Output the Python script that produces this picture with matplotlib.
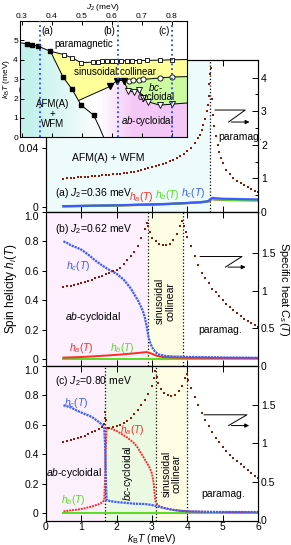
import numpy as np
import matplotlib
matplotlib.use("Agg")
import matplotlib.pyplot as plt
from matplotlib.patches import Polygon
from matplotlib.colors import LinearSegmentedColormap

plt.rcParams['font.family'] = ['Liberation Sans', 'DejaVu Sans']
plt.rcParams['mathtext.fontset'] = 'custom'
plt.rcParams['mathtext.rm'] = 'Liberation Sans'
plt.rcParams['mathtext.it'] = 'Liberation Sans:italic'
plt.rcParams['font.size'] = 7.5

# ---------------- phase diagram (inset) ----------------
afm_j = [0.319, 0.335, 0.355, 0.396, 0.438, 0.468, 0.498, 0.54]
afm_t = [4.82, 4.77, 4.70, 4.44, 3.11, 2.48, 1.66, 1.14]
afm_head = [0.295, 4.88]
afm_tail_j = [0.558, 0.573]
afm_tail_t = [0.55, 0.0]

para_j = [0.44, 0.468, 0.498, 0.538, 0.554, 0.568, 0.585, 0.60, 0.615, 0.632, 0.65, 0.667, 0.69, 0.717, 0.759, 0.80]
para_t = [4.27, 4.10, 3.85, 3.88, 3.90, 3.92, 3.92, 3.92, 3.93, 3.94, 3.95, 3.96, 3.96, 3.97, 3.98, 4.00]
para_end = [0.85, 4.01]

sin_start = [0.49, 1.90]
sin_j = [0.595, 0.617, 0.639]
sin_t = [2.63, 2.93, 2.93]

circ_j = [0.656, 0.672, 0.689, 0.705, 0.759, 0.80]
circ_t = [2.93, 2.94, 2.97, 2.99, 3.06, 3.11]
circ_end = [0.85, 3.13]

tri_j = [0.655, 0.675, 0.69, 0.705, 0.722, 0.759, 0.80]
tri_t = [2.40, 2.33, 2.42, 2.05, 1.83, 1.66, 1.71]
tri_end = [0.85, 1.77]

cut_j = [0.36, 0.62, 0.80]
cut_lab = ['(a)', '(b)', '(c)']

# ---------------- panel (a) J2=0.36 ----------------
Ta = [0.5, 0.6, 0.7, 0.8, 0.9, 1.0, 1.1, 1.2, 1.3, 1.4, 1.5, 1.6, 1.7, 1.8, 1.9, 2.0,
      2.1, 2.2, 2.3, 2.4, 2.5, 2.6, 2.7, 2.8, 2.9, 3.0, 3.1, 3.2, 3.3, 3.4, 3.5, 3.6,
      3.7, 3.8, 3.9, 4.0, 4.1, 4.2, 4.3, 4.35, 4.4, 4.45, 4.5, 4.55, 4.58, 4.6, 4.62,
      4.64, 4.66, 4.69, 4.72, 4.76, 4.8, 4.85, 4.9, 4.95, 5.0, 5.1, 5.2, 5.3, 5.4,
      5.5, 5.6, 5.7, 5.8, 5.9, 6.0]
Ca = [0.99, 1.0, 1.01, 1.02, 1.03, 1.04, 1.05, 1.05, 1.06, 1.07, 1.08, 1.09, 1.10, 1.11, 1.12, 1.13,
      1.14, 1.16, 1.17, 1.19, 1.20, 1.22, 1.25, 1.28, 1.30, 1.33, 1.36, 1.39, 1.43, 1.47, 1.51, 1.55,
      1.60, 1.66, 1.73, 1.81, 1.92, 2.04, 2.20, 2.30, 2.45, 2.60, 2.78, 3.00, 3.20, 3.45, 3.80,
      4.10, 4.30, 3.35, 2.90, 2.55, 2.25, 2.00, 1.78, 1.60, 1.46, 1.25, 1.12, 1.02, 0.93,
      0.87, 0.80, 0.74, 0.69, 0.64, 0.60]
Ta_h = [0.5, 1.0, 1.5, 2.0, 2.5, 3.0, 3.5, 4.0, 4.3, 4.5, 4.6, 4.65, 4.7, 4.8, 5.0, 5.5, 6.0]
ha_a = [0.0003, 0.0005, 0.0007, 0.0009, 0.0012, 0.0015, 0.0019, 0.0025, 0.0029, 0.0033, 0.0037, 0.0048, 0.0052, 0.0050, 0.0047, 0.0045, 0.0044]
hb_a = [0.0003, 0.0005, 0.0007, 0.0009, 0.0012, 0.0015, 0.0019, 0.0025, 0.0029, 0.0034, 0.0038, 0.0050, 0.0053, 0.0051, 0.0048, 0.0046, 0.0044]
hc_a = [0.0004, 0.0006, 0.0008, 0.0010, 0.0013, 0.0016, 0.0020, 0.0026, 0.0030, 0.0035, 0.0040, 0.0053, 0.0060, 0.0058, 0.0055, 0.0052, 0.0050]
Tc_a = 4.65

# ---------------- panel (b) J2=0.62 ----------------
Tb = [0.5, 0.6, 0.7, 0.8, 0.9, 1.0, 1.1, 1.2, 1.3, 1.4, 1.5, 1.6, 1.7, 1.8, 1.9, 2.0,
      2.1, 2.2, 2.3, 2.4, 2.5, 2.6, 2.7, 2.8, 2.85, 2.9, 2.95, 3.0, 3.1, 3.2, 3.3, 3.4,
      3.5, 3.6, 3.7, 3.8, 3.85, 3.9, 3.95, 4.0, 4.1, 4.2, 4.3, 4.4, 4.5, 4.6, 4.7, 4.8,
      4.9, 5.0, 5.1, 5.2, 5.3, 5.4, 5.5, 5.6, 5.7, 5.8, 5.9, 6.0]
Cb = [1.05, 1.06, 1.07, 1.08, 1.09, 1.10, 1.12, 1.13, 1.15, 1.17, 1.19, 1.20, 1.22, 1.24, 1.26, 1.28,
      1.31, 1.36, 1.41, 1.46, 1.52, 1.60, 1.70, 1.82, 1.90, 1.87, 1.78, 1.71, 1.66, 1.62, 1.61, 1.61,
      1.63, 1.68, 1.76, 1.87, 1.93, 1.86, 1.79, 1.72, 1.60, 1.47, 1.34, 1.24, 1.17, 1.10, 1.03, 0.98,
      0.93, 0.88, 0.83, 0.79, 0.75, 0.71, 0.67, 0.63, 0.60, 0.57, 0.54, 0.52]
Tb_c = [0.5, 0.6, 0.7, 0.8, 0.9, 1.0, 1.2, 1.4, 1.6, 1.8, 2.0, 2.2, 2.3, 2.4, 2.5, 2.6, 2.7,
        2.75, 2.8, 2.85, 2.9, 2.95, 3.0, 3.1, 3.2, 3.4, 3.6, 4.0, 4.5, 5.0, 5.5, 6.0]
hc_b = [0.80, 0.79, 0.775, 0.765, 0.755, 0.745, 0.71, 0.67, 0.635, 0.605, 0.58, 0.54, 0.51, 0.48, 0.44, 0.40, 0.35,
        0.32, 0.28, 0.22, 0.15, 0.11, 0.08, 0.045, 0.03, 0.02, 0.017, 0.014, 0.012, 0.010, 0.009, 0.008]
Tb_a = [0.5, 1.0, 1.5, 2.0, 2.4, 2.7, 2.85, 2.95, 3.05, 3.15, 3.3, 3.6, 4.0, 5.0, 6.0]
ha_b = [0.009, 0.013, 0.020, 0.028, 0.036, 0.043, 0.047, 0.040, 0.030, 0.020, 0.013, 0.010, 0.008, 0.007, 0.006]
Tb_b = [0.5, 2.0, 4.0, 6.0]
hb_b = [0.003, 0.003, 0.003, 0.003]
Tc_b = [2.88, 3.87]

# ---------------- panel (c) J2=0.80 ----------------
Tcc = [0.5, 0.6, 0.7, 0.8, 0.9, 1.0, 1.1, 1.2, 1.3, 1.4, 1.5, 1.6, 1.64, 1.66, 1.68, 1.7,
       1.75, 1.8, 1.9, 2.0, 2.1, 2.2, 2.3, 2.4, 2.5, 2.6, 2.7, 2.8, 2.9, 3.0, 3.05, 3.09,
       3.13, 3.18, 3.25, 3.35, 3.45, 3.55, 3.65, 3.75, 3.85, 3.93, 3.98, 4.03, 4.1, 4.2,
       4.3, 4.4, 4.5, 4.6, 4.7, 4.8, 4.9, 5.0, 5.1, 5.2, 5.3, 5.4, 5.5, 5.6, 5.7, 5.8, 5.9, 6.0]
Cc = [1.01, 1.03, 1.04, 1.05, 1.07, 1.08, 1.10, 1.12, 1.14, 1.16, 1.18, 1.21, 1.25, 1.33, 1.41, 1.30,
      1.20, 1.20, 1.21, 1.22, 1.24, 1.26, 1.29, 1.33, 1.38, 1.43, 1.49, 1.56, 1.64, 1.74, 1.84, 1.93,
      1.86, 1.78, 1.70, 1.65, 1.62, 1.61, 1.63, 1.67, 1.74, 1.85, 1.89, 1.82, 1.71, 1.60,
      1.50, 1.39, 1.30, 1.22, 1.14, 1.07, 1.01, 0.95, 0.90, 0.85, 0.81, 0.77, 0.73, 0.69, 0.65, 0.61, 0.58, 0.55]
Tc_c = [0.5, 0.7, 0.9, 1.1, 1.3, 1.5, 1.6, 1.65, 1.68, 1.69, 1.7, 1.72, 1.8, 2.0, 2.2, 2.5,
        2.8, 3.0, 3.2, 3.4, 3.6, 3.8, 4.0, 4.5, 5.0, 6.0]
hc_c = [0.733, 0.72, 0.695, 0.675, 0.655, 0.62, 0.60, 0.58, 0.45, 0.32, 0.20, 0.09, 0.085, 0.077, 0.073, 0.066,
        0.064, 0.057, 0.045, 0.033, 0.024, 0.018, 0.014, 0.011, 0.010, 0.009]
Tc_a2 = [0.5, 0.7, 0.9, 1.1, 1.3, 1.5, 1.6, 1.65, 1.68, 1.69, 1.72, 1.8, 1.9, 2.0, 2.1, 2.2,
         2.3, 2.4, 2.5, 2.6, 2.7, 2.8, 2.9, 2.95, 3.0, 3.05, 3.08, 3.1, 3.15, 3.2, 3.3, 3.5,
         3.7, 4.0, 4.5, 5.0, 6.0]
ha_c = [0.014, 0.020, 0.026, 0.035, 0.047, 0.063, 0.075, 0.089, 0.25, 0.42, 0.58, 0.58, 0.57, 0.56, 0.545, 0.53,
        0.515, 0.495, 0.475, 0.445, 0.405, 0.365, 0.325, 0.30, 0.27, 0.20, 0.12, 0.08, 0.062, 0.05, 0.04, 0.028,
        0.02, 0.014, 0.011, 0.009, 0.008]
Tc_b2 = [0.5, 2.0, 4.0, 6.0]
hb_c = [0.003, 0.003, 0.003, 0.003]
Tc_c3 = [1.68, 3.11, 3.98]

cdots = '#8b1a0a'
red, green, blue = '#ff2a2a', '#55dd22', '#3a5cff'

W, H = 291, 545
fig = plt.figure(figsize=(W / 100, H / 100), dpi=100)


def box(l, t, r, b):
    return [l / W, 1 - b / H, (r - l) / W, (b - t) / H]


axa = fig.add_axes(box(45.7, 59.5, 258.3, 212))
axb = fig.add_axes(box(45.7, 212, 258.3, 366))
axc = fig.add_axes(box(45.7, 366, 258.3, 520.5))
axa2 = axa.twinx()
axb2 = axb.twinx()
axc2 = axc.twinx()

# backgrounds
axa.axvspan(0, Tc_a, color='#eefbfb', lw=0, zorder=0)
axb.axvspan(0, Tc_b[0], color='#fdeffd', lw=0, zorder=0)
axb.axvspan(Tc_b[0], Tc_b[1], color='#fdfde4', lw=0, zorder=0)
axc.axvspan(0, Tc_c3[0], color='#fdf0fd', lw=0, zorder=0)
axc.axvspan(Tc_c3[0], Tc_c3[1], color='#ecf9e2', lw=0, zorder=0)
axc.axvspan(Tc_c3[1], Tc_c3[2], color='#fdfde4', lw=0, zorder=0)
for ax, xs in [(axa, [Tc_a]), (axb, Tc_b), (axc, Tc_c3)]:
    for x in xs:
        ax.axvline(x, color='k', ls=':', lw=0.9, zorder=1)

# helicities
axa.plot(Ta_h, ha_a, color=red, lw=1.6, zorder=2)
axa.plot(Ta_h, hb_a, color=green, lw=1.6, zorder=2)
axa.plot(Ta_h, hc_a, color=blue, lw=1.6, zorder=2)
axb.plot(Tb_b, hb_b, color=green, lw=1.4, zorder=2)
axb.plot(Tb_a, ha_b, color=red, lw=1.4, zorder=2)
axb.plot(Tb_c, hc_b, color=blue, lw=1.6, ls=(0, (1, 0.4)), zorder=2)
axc.plot(Tc_b2, hb_c, color=green, lw=1.4, zorder=2)
axc.plot(Tc_a2, ha_c, color=red, lw=1.4, ls=(0, (1, 0.5)), zorder=2)
axc.plot(Tc_c, hc_c, color=blue, lw=1.6, ls=(0, (1, 0.4)), zorder=2)

# specific heat
for ax2, T, C in [(axa2, Ta, Ca), (axb2, Tb, Cb), (axc2, Tcc, Cc)]:
    ax2.plot(T, C, 's', color=cdots, ms=2.0, mew=0)

# axes cosmetics
for ax in (axa, axb, axc):
    ax.set_xlim(0, 6)
    ax.set_xticks(range(7))
    ax.tick_params(axis='x', direction='in', top=True, bottom=True, length=4, width=0.7,
                   labelsize=7.5, pad=1)
    ax.tick_params(axis='y', direction='out', right=False, length=3, width=0.7, labelsize=7.5, pad=2)
    for s in ax.spines.values():
        s.set_linewidth(0.8)
for ax in (axa, axb):
    ax.tick_params(axis='x', labelbottom=False)

axa.set_ylim(-0.0036, 0.1008)
axa.set_yticks([0, 0.04, 0.08])
axa.set_yticklabels(['0', '0.04', '0.08'])
for ax in (axb, axc):
    ax.set_ylim(-0.048, 1.0)
    ax.set_yticks([0, 0.2, 0.4, 0.6, 0.8, 1.0])
    ax.set_yticklabels(['0', '0.2', '0.4', '0.6', '0.8', '1.0'])
    # keep the top label clear of the panel above
    ax.get_yticklabels()[-1].set_va('top')

axa2.set_ylim(0, 4.54)
axa2.set_yticks([0, 1, 2, 3, 4])
axa2.set_yticks([0.5, 1.5, 2.5, 3.5], minor=True)
axb2.set_ylim(0, 2.05)
axc2.set_ylim(0, 2.0)
for ax2 in (axb2, axc2):
    ax2.set_yticks([0, 0.5, 1, 1.5])
    ax2.set_yticklabels(['0', '0.5', '1', '1.5'])
for ax2 in (axa2, axb2, axc2):
    ax2.tick_params(axis='y', which='major', direction='in', length=4, width=0.7, labelsize=7.5, pad=2)
    ax2.tick_params(axis='y', which='minor', direction='in', length=2.5, width=0.7)

axc.set_xlabel(r'$k_{\rm B}T$ (meV)', fontsize=7.5, va='center')
axc.xaxis.set_label_coords(0.5, -0.118)
axb.set_ylabel(r'Spin helicity $h_i(T)$', fontsize=8.5, labelpad=4)
axb2.set_ylabel(r'Specific heat $C_s(T)$', fontsize=8, rotation=270, labelpad=11)

# panel texts
axa.text(1.77, 0.0332, 'AFM(A) + WFM', ha='center', va='center', fontsize=7.5)
axa.text(0.26, 0.0092, r'(a) $J_2$=0.36 meV', ha='left', va='center', fontsize=7.5)
axa.text(2.71, 0.0068, r'$h_a(T)$', color=red, ha='center', va='center', fontsize=7.5)
axa.text(3.42, 0.0080, r'$h_b(T)$', color=green, ha='center', va='center', fontsize=7.5)
axa.text(4.15, 0.0092, r'$h_c(T)$', color=blue, ha='center', va='center', fontsize=7.5)
axa.text(4.86, 0.048, 'paramag.', ha='left', va='center', fontsize=7.5)

axb.text(0.26, 0.887, r'(b) $J_2$=0.62 meV', ha='left', va='center', fontsize=7.5)
axb.text(0.91, 0.632, r'$h_c(T)$', color=blue, ha='center', va='center', fontsize=7.5)
axb.text(1.34, 0.286, r'$ab$-cycloidal', ha='center', va='center', fontsize=7.5)
axb.text(3.37, 0.392, 'sinusoidal\ncollinear', rotation=90, ha='center', va='center',
         fontsize=7.5, linespacing=1.0)
axb.text(4.92, 0.20, 'paramag.', ha='center', va='center', fontsize=7.5)
axb.text(1.02, 0.073, r'$h_a(T)$', color=red, ha='center', va='center', fontsize=7.5)
axb.text(2.15, 0.073, r'$h_b(T)$', color=green, ha='center', va='center', fontsize=7.5)

axc.text(0.26, 0.898, r'(c) $J_2$=0.80 meV', ha='left', va='center', fontsize=7.5)
axc.text(0.86, 0.749, r'$h_c(T)$', color=blue, ha='center', va='center', fontsize=7.5)
axc.text(2.44, 0.567, r'$h_a(T)$', color=red, ha='center', va='center', fontsize=7.5)
axc.text(0.77, 0.089, r'$h_b(T)$', color=green, ha='center', va='center', fontsize=7.5)
axc.text(0.80, 0.271, r'$ab$-cycloidal', ha='center', va='center', fontsize=7.5)
axc.text(2.33, 0.271, r'$bc$-cycloidal', rotation=90, ha='center', va='center', fontsize=7.5)
axc.text(3.56, 0.271, 'sinusoidal\ncollinear', rotation=90, ha='center', va='center',
         fontsize=7.5, linespacing=1.0)
axc.text(5.0, 0.13, 'paramag.', ha='center', va='center', fontsize=7.5)

# Z-shaped arrows pointing at the right axis
for ax, (x0, x1, x2, x3), (y0, y1) in [
        (axa, (4.78, 5.63, 5.16, 5.83), (0.0662, 0.058)),
        (axb, (4.36, 5.54, 5.07, 5.72), (0.697, 0.625)),
        (axc, (4.47, 5.68, 5.16, 5.82), (0.669, 0.596))]:
    ax.plot([x0, x1, x2], [y0, y0, y1], color='k', lw=0.7, zorder=3)
    ax.annotate('', xy=(x3, y1), xytext=(x2, y1),
                arrowprops=dict(arrowstyle='-|>', color='k', lw=0.7, mutation_scale=6))

# ---------------- inset ----------------
ins = fig.add_axes(box(20, 21, 187, 137.3))
ins.set_zorder(10)
ins.set_facecolor('white')

afm_line_j = [afm_head[0]] + afm_j + afm_tail_j
afm_line_t = [afm_head[1]] + afm_t + afm_tail_t

afm_poly = [(0.295, 0)] + list(zip(afm_line_j, afm_line_t))
yel_poly = ([(afm_j[3], afm_t[3])] + list(zip(para_j, para_t)) + [tuple(para_end), tuple(circ_end)]
            + list(zip(circ_j, circ_t))[::-1] + list(zip(sin_j, sin_t))[::-1]
            + [tuple(sin_start), (afm_j[5], afm_t[5]), (afm_j[4], afm_t[4])])
grn_poly = ([(sin_j[-1], sin_t[-1])] + list(zip(circ_j, circ_t)) + [tuple(circ_end), tuple(tri_end)]
            + list(zip(tri_j, tri_t))[::-1])
pnk_poly = ([tuple(sin_start)] + list(zip(sin_j, sin_t)) + list(zip(tri_j, tri_t)) + [tuple(tri_end), (0.85, 0)]
            + [(afm_tail_j[1], afm_tail_t[1]), (afm_tail_j[0], afm_tail_t[0]), (afm_j[7], afm_t[7]),
               (afm_j[6], afm_t[6])])


def grad_fill(ax, pts, stops, x0, x1):
    patch = Polygon(pts, closed=True, facecolor='none', edgecolor='none')
    ax.add_patch(patch)
    cmap = LinearSegmentedColormap.from_list('g', stops)
    im = ax.imshow(np.linspace(0, 1, 256).reshape(1, -1), extent=(x0, x1, 0, 6), aspect='auto',
                   cmap=cmap, origin='lower', zorder=0, interpolation='bilinear')
    im.set_clip_path(patch)


grad_fill(ins, afm_poly, [(0, '#c3f1ec'), (0.15, '#c6f2ed'), (1, '#ffffff')], 0.295, 0.575)
grad_fill(ins, pnk_poly, [(0, '#ffffff'), (0.18, '#ffffff'), (0.5, '#f4c8f6'), (1, '#f4c8f6')], 0.49, 0.85)
ins.add_patch(Polygon(yel_poly, closed=True, facecolor='#ffff99', edgecolor='none', zorder=0.5))
ins.add_patch(Polygon(grn_poly, closed=True, facecolor='#ccfa9f', edgecolor='none', zorder=0.5))

lk = dict(color='k', lw=0.7, zorder=2)
ins.plot(afm_line_j, afm_line_t, **lk)
ins.plot([afm_j[3]] + para_j + [para_end[0]], [afm_t[3]] + para_t + [para_end[1]], **lk)
ins.plot([sin_start[0]] + sin_j, [sin_start[1]] + sin_t, **lk)
ins.plot([sin_j[-1]] + circ_j + [circ_end[0]], [sin_t[-1]] + circ_t + [circ_end[1]], **lk)
ins.plot([sin_j[-1]] + tri_j + [tri_end[0]], [sin_t[-1]] + tri_t + [tri_end[1]], **lk)

ms = 3.4
ins.plot(afm_j, afm_t, 's', color='k', ms=ms, zorder=3)
ins.plot(para_j, para_t, 's', mfc='white', mec='k', mew=0.6, ms=ms, zorder=3)
ins.plot(sin_j, sin_t, 'v', color='k', ms=ms + 0.4, zorder=3)
ins.plot(circ_j, circ_t, 'o', mfc='white', mec='k', mew=0.6, ms=ms + 0.3, zorder=3)
ins.plot(tri_j, tri_t, 'v', mfc='white', mec='k', mew=0.6, ms=ms + 0.4, zorder=3)

for x in cut_j:
    ins.axvline(x, color='#2244ff', ls=':', lw=1.3, zorder=4)
ins.text(0.385, 5.47, cut_lab[0], ha='center', va='center', fontsize=7)
ins.text(0.593, 5.47, cut_lab[1], ha='center', va='center', fontsize=7)
ins.text(0.774, 5.50, cut_lab[2], ha='center', va='center', fontsize=7)

ins.text(0.507, 4.82, 'paramagnetic', ha='center', va='center', fontsize=7)
ins.text(0.612, 3.36, 'sinusoidal collinear', ha='center', va='center', fontsize=7)
ins.text(0.747, 2.38, '$bc$-\ncycloidal', ha='center', va='center', fontsize=7, linespacing=0.9)
ins.text(0.717, 0.85, '$ab$-cycloidal', ha='center', va='center', fontsize=7)
ins.text(0.404, 1.2, 'AFM(A)\n+\nWFM', ha='center', va='center', fontsize=7, linespacing=0.95)

ins.set_xlim(0.295, 0.85)
ins.set_ylim(0, 6)
ins.set_xticks([0.3, 0.4, 0.5, 0.6, 0.7, 0.8])
ins.set_xticklabels(['0.3', '0.4', '0.5', '0.6', '0.7', '0.8'])
ins.set_yticks([0, 1, 2, 3, 4, 5])
ins.xaxis.set_label_position('top')
ins.tick_params(axis='x', direction='in', top=True, bottom=True, labeltop=True, labelbottom=False,
                length=3, width=0.7, labelsize=6, pad=1)
ins.tick_params(axis='y', direction='in', left=True, right=False, length=3, width=0.7, labelsize=6, pad=1.5)
ins.set_xlabel(r'$J_2$ (meV)', fontsize=6, labelpad=2.5)
ins.set_ylabel(r'$k_{\rm B}T$ (meV)', fontsize=6, labelpad=1)
for s in ins.spines.values():
    s.set_linewidth(0.8)

fig.savefig('out.png', dpi=100)
